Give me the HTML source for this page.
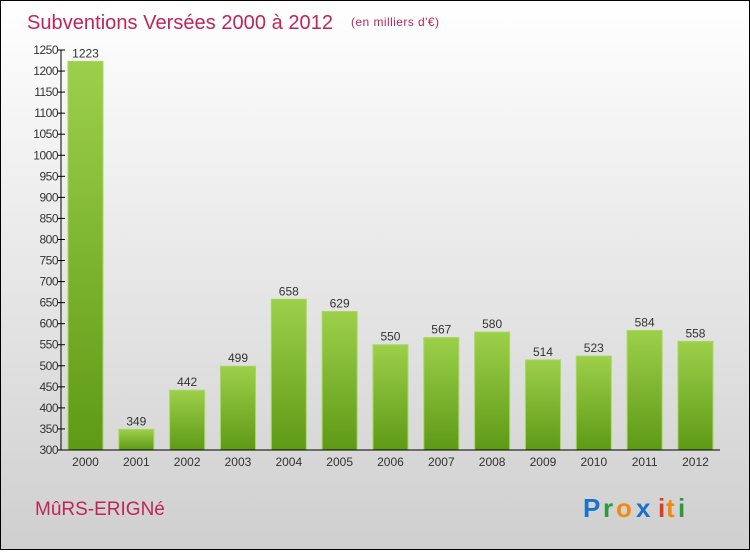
<!DOCTYPE html>
<html><head><meta charset="utf-8"><style>
body{margin:0}
svg text{font-family:"Liberation Sans",sans-serif}
</style></head><body>
<svg width="750" height="550" xmlns="http://www.w3.org/2000/svg">
<defs>
<linearGradient id="bg" x1="0" y1="0" x2="0" y2="1"><stop offset="0" stop-color="#ffffff"/><stop offset="1" stop-color="#cfcfcf"/></linearGradient>
<linearGradient id="bar" x1="0" y1="0" x2="0" y2="1"><stop offset="0" stop-color="#9dd04a"/><stop offset="1" stop-color="#5e9a16"/></linearGradient>
</defs>
<rect x="0.5" y="0.5" width="749" height="549" fill="url(#bg)" stroke="#000"/>
<text x="27" y="29" font-size="20" fill="#c0245a" textLength="306">Subventions Versées 2000 à 2012</text>
<text x="351" y="26" font-size="12" fill="#c0245a" textLength="88">(en milliers d'€)</text>
<g id="bars"></g>
<g id="axis"></g>
<text x="35" y="515" font-size="19" fill="#c0245a">MûRS-ERIGNé</text>
<g font-size="26" font-weight="bold">
<text x="583" y="517" fill="#1a73c9">P</text><text x="603" y="517" fill="#2a9a3a">r</text><text x="616" y="517" fill="#f08a10">o</text><text x="636" y="517" fill="#1a73c9">x</text><text x="658" y="517" fill="#e03a20">i</text><text x="666" y="517" fill="#f08a10">t</text><text x="678" y="517" fill="#2a9a3a">i</text>
</g>
</svg>
<script>
const categories=["2000","2001","2002","2003","2004","2005","2006","2007","2008","2009","2010","2011","2012"];
const values=[1223,349,442,499,658,629,550,567,580,514,523,584,558];
const ticks=[300,350,400,450,500,550,600,650,700,750,800,850,900,950,1000,1050,1100,1150,1200,1250];
const NS="http://www.w3.org/2000/svg";
const y=v=>450-(v-300)*400/950;
const x=i=>85.5+i*50.83;
function mk(t,a,p){const e=document.createElementNS(NS,t);for(const k in a)e.setAttribute(k,a[k]);p.appendChild(e);return e;}
const bars=document.getElementById('bars'),axis=document.getElementById('axis');
values.forEach((v,i)=>{
 const r=mk('rect',{x:x(i)-17.5,y:y(v),width:35,height:450-y(v),fill:'url(#bar)',stroke:'#a8d860','stroke-width':1},bars);
 
 
 const t=mk('text',{x:x(i),y:y(v)-4,'text-anchor':'middle','font-size':12,fill:'#333'},bars);t.textContent=v;
 
 
 const c=mk('text',{x:x(i),y:466,'text-anchor':'middle','font-size':12,fill:'#333'},axis);c.textContent=categories[i];
 
 
});
const yl=mk('line',{x1:61,y1:50,x2:61,y2:450,stroke:'#000'},axis);


const xl=mk('line',{x1:61,y1:450,x2:720,y2:450,stroke:'#000'},axis);


ticks.forEach(v=>{
 mk('line',{x1:57,y1:y(v),x2:65,y2:y(v),stroke:'#000'},axis);
 const t=mk('text',{x:58,y:y(v)+4,'text-anchor':'end','font-size':12,fill:'#333','letter-spacing':'-0.5'},axis);t.textContent=v;
 
 
});
</script>
</body></html>
